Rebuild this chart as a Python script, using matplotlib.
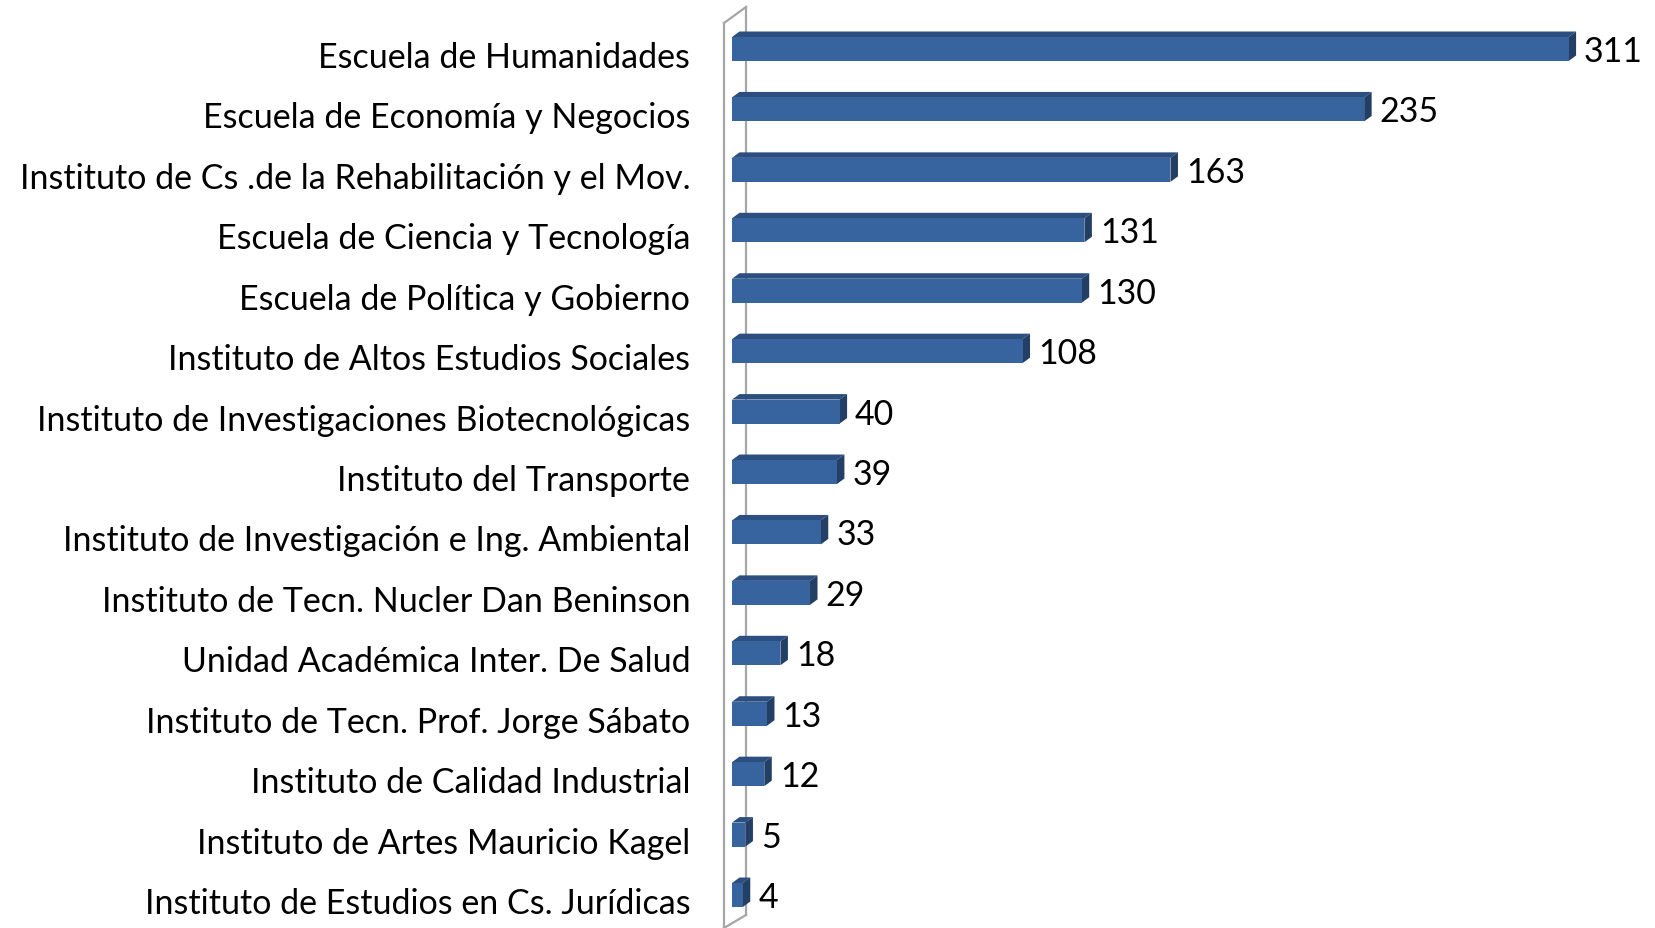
import matplotlib.pyplot as plt
import numpy as np
from matplotlib.patches import Polygon
from matplotlib.transforms import ScaledTranslation

plt.rcParams["font.family"] = ["Lato", "DejaVu Sans"]

categories = [
    "Escuela de Humanidades",
    "Escuela de Economía y Negocios",
    "Instituto de Cs .de la Rehabilitación y el Mov.",
    "Escuela de Ciencia y Tecnología",
    "Escuela de Política y Gobierno",
    "Instituto de Altos Estudios Sociales",
    "Instituto de Investigaciones Biotecnológicas",
    "Instituto del Transporte",
    "Instituto de Investigación e Ing. Ambiental",
    "Instituto de Tecn. Nucler Dan Beninson",
    "Unidad Académica Inter. De Salud",
    "Instituto de Tecn. Prof. Jorge Sábato",
    "Instituto de Calidad Industrial",
    "Instituto de Artes Mauricio Kagel",
    "Instituto de Estudios en Cs. Jurídicas",
]
values = [311, 235, 163, 131, 130, 108, 40, 39, 33, 29, 18, 13, 12, 5, 4]

front_col = "#37649f"
top_col = "#2c4f7f"
side_col = "#243f66"
wall_col = "#a6a6a6"
fs = 24.5

W, H = 1655, 929
fig = plt.figure(figsize=(W / 100, H / 100), dpi=100)

# axes geometry in pixels: value 0 at x=732, 2.69 px per unit; rows 60.43 px apart
x0_px, px_per_unit = 732, 2.69
row_px, first_row_px = 60.43, 50
xmax = (W - x0_px) / px_per_unit
ytop = -first_row_px / row_px
ybot = (H - first_row_px) / row_px
ax = fig.add_axes([x0_px / W, 0, 1 - x0_px / W, 1])
ax.set_xlim(0, xmax)
ax.set_ylim(ybot, ytop)

# 3D depth offsets (pixels -> data)
dx = 7.5 / px_per_unit
dy = 5.5 / row_px
bh = 24 / row_px

ypos = np.arange(len(values))
ax.barh(ypos, values, height=bh, color=front_col, zorder=3)
for y, v in zip(ypos, values):
    top = Polygon([(0, y - bh / 2), (v, y - bh / 2), (v + dx, y - bh / 2 - dy),
                   (dx, y - bh / 2 - dy)], closed=True, facecolor=top_col,
                  edgecolor="none", zorder=2)
    side = Polygon([(v, y - bh / 2), (v + dx, y - bh / 2 - dy),
                    (v + dx, y + bh / 2 - dy), (v, y + bh / 2)], closed=True,
                   facecolor=side_col, edgecolor="none", zorder=2)
    ax.add_patch(top)
    ax.add_patch(side)
    ax.text(v + dx + 8 / px_per_unit, y + 2 / row_px, str(v), fontsize=fs,
            va="center", ha="left", color="black")

# side wall of the 3D plot
fx = -8 / px_per_unit
bx = 14 / px_per_unit
wall = dict(color=wall_col, lw=1.6, clip_on=False, zorder=1)
ax.plot([fx, fx], [(24 - first_row_px) / row_px, ybot], **wall)
ax.plot([bx, bx], [(8 - first_row_px) / row_px, (916 - first_row_px) / row_px], **wall)
ax.plot([fx, bx], [(24 - first_row_px) / row_px, (8 - first_row_px) / row_px], **wall)
ax.plot([fx, bx], [ybot, (916 - first_row_px) / row_px], **wall)

ax.set_yticks(ypos)
ax.set_yticklabels(categories, fontsize=fs)
ax.tick_params(axis="y", length=0, pad=30)
for lab in ax.get_yticklabels():
    lab.set_transform(lab.get_transform() + ScaledTranslation(0, -5 / 100, fig.dpi_scale_trans))
ax.set_xticks([])
for s in ax.spines.values():
    s.set_visible(False)
ax.patch.set_alpha(0)

fig.savefig("out.png", dpi=100)
